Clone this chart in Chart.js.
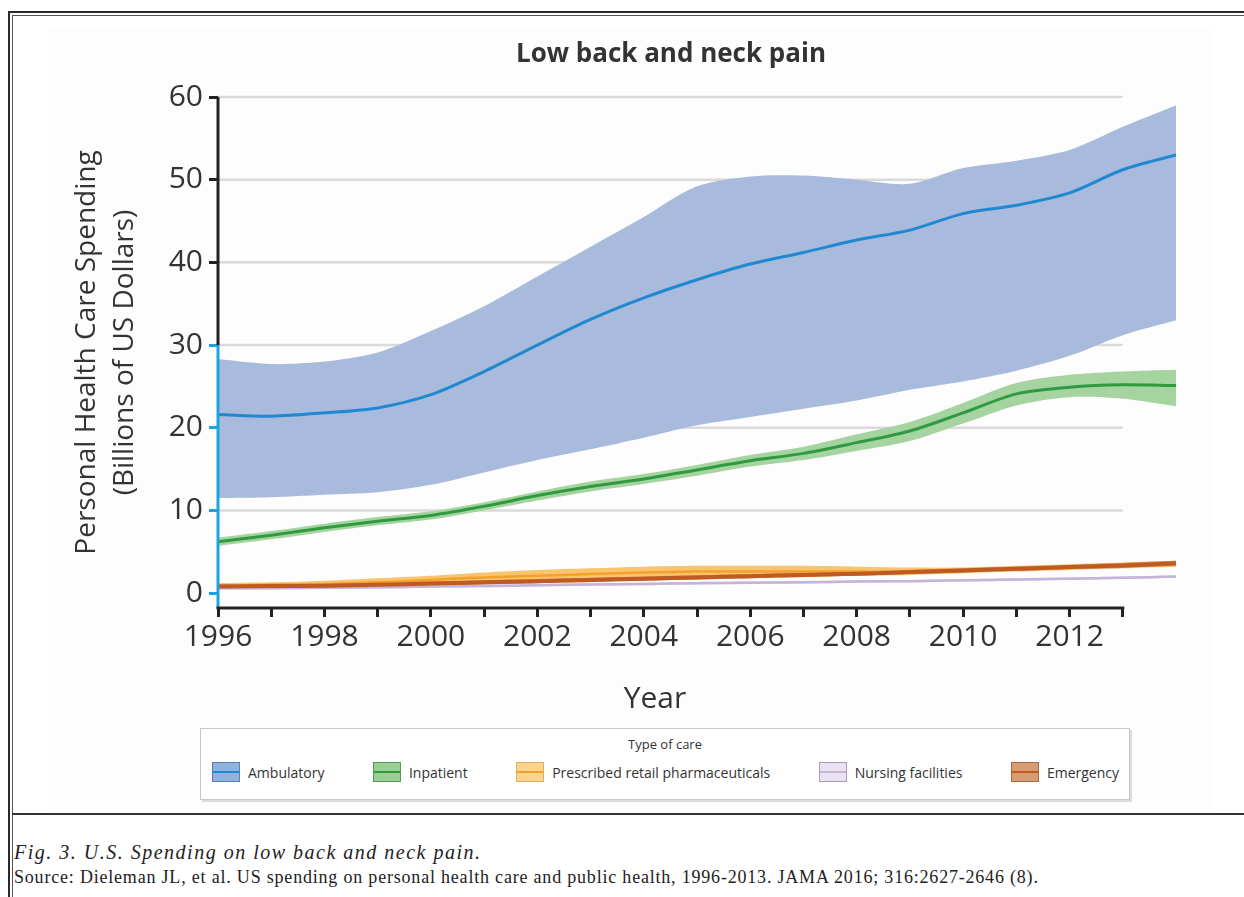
<!DOCTYPE html>
<html>
<head>
<meta charset="utf-8">
<script src="https://cdn.jsdelivr.net/npm/chart.js@4.4.0/dist/chart.umd.min.js"></script>
<style>
body { margin: 0; width: 1244px; height: 897px; background: #fff; position: relative; overflow: hidden; font-family: "Open Sans", sans-serif; color: #333; }
.ln { position: absolute; background: #2a2a2a; }
#fig { position: absolute; left: 48px; top: 28px; width: 1165px; height: 785px; background: #fdfdfd; }
#myChart { position: absolute; left: 0; top: 0; }
#title { position: absolute; left: 0; width: 1342px; top: 34px; text-align: center; font-size: 26px; font-weight: 700; color: #333; }
#xtitle { position: absolute; left: 555px; width: 200px; top: 676px; text-align: center; font-size: 30px; font-weight: 500; color: #333; }
#legend { position: absolute; left: 200px; top: 728px; width: 928px; height: 70px; border: 1px solid #c8c8c8; box-shadow: 2px 2px 0 #dcdcdc; background: #fff; }
#legend .lt { text-align: center; font-size: 13px; margin-top: 6px; color: #333; }
#items { display: flex; justify-content: space-between; padding: 0 10px 0 11px; margin-top: 9px; }
.item { display: flex; align-items: center; font-size: 14px; color: #333; }
.sw { width: 26px; height: 18px; margin-right: 8px; position: relative; border: 1px solid; }
.sw i { position: absolute; left: 0; right: 0; top: 8px; height: 2px; }
#cap1 { position: absolute; left: 14px; top: 841px; font-family: "Liberation Serif", serif; font-style: italic; font-size: 20px; letter-spacing: 1.5px; color: #222; }
#cap2 { position: absolute; left: 14px; top: 867px; font-family: "Liberation Serif", serif; font-size: 18px; letter-spacing: 0.8px; color: #222; }
</style>
</head>
<body>
<div class="ln" style="left:8px;top:11px;width:2px;height:886px;"></div>
<div class="ln" style="left:12px;top:15px;width:1px;height:882px;background:#555;"></div>
<div class="ln" style="left:8px;top:11px;width:1236px;height:2px;"></div>
<div class="ln" style="left:12px;top:15px;width:1232px;height:1px;background:#555;"></div>
<div class="ln" style="left:12px;top:813px;width:1232px;height:2px;background:#333;"></div>
<div id="fig"></div>
<canvas id="myChart" width="1244" height="680"></canvas>
<div id="title">Low back and neck pain</div>
<div id="xtitle">Year</div>
<div id="legend"><div class="lt">Type of care</div><div id="items"></div></div>
<div id="cap1">Fig. 3. U.S. Spending on low back and neck pain.</div>
<div id="cap2">Source: Dieleman JL, et al. US spending on personal health care and public health, 1996-2013. JAMA 2016; 316:2627-2646 (8).</div>
<script>
// years of the estimates (the curves run one step past the last axis tick)
const years = [1996, 1997, 1998, 1999, 2000, 2001, 2002, 2003, 2004, 2005, 2006, 2007, 2008, 2009, 2010, 2011, 2012, 2013, 2014];
const xTickLabels = ['1996', '1998', '2000', '2002', '2004', '2006', '2008', '2010', '2012'];
const yTicks = [0, 10, 20, 30, 40, 50, 60];
const axisYears = [1996, 2013];

const seriesNames = ['Ambulatory', 'Inpatient', 'Prescribed retail pharmaceuticals', 'Nursing facilities', 'Emergency'];

// billions of US dollars
const ambulatory   = [21.6, 21.4, 21.8, 22.4, 24.0, 26.8, 30.0, 33.1, 35.7, 37.9, 39.8, 41.2, 42.7, 43.9, 45.9, 46.9, 48.4, 51.2, 53.0];
const ambulatoryHi = [28.3, 27.7, 28.0, 29.1, 31.7, 34.7, 38.3, 41.9, 45.5, 49.2, 50.4, 50.5, 50.0, 49.5, 51.4, 52.3, 53.6, 56.4, 59.0];
const ambulatoryLo = [11.5, 11.6, 11.9, 12.2, 13.1, 14.6, 16.1, 17.4, 18.8, 20.3, 21.3, 22.3, 23.3, 24.6, 25.6, 26.9, 28.7, 31.2, 33.0];

const inpatient   = [6.2, 7.0, 7.9, 8.7, 9.4, 10.5, 11.8, 12.9, 13.8, 14.9, 16.0, 16.9, 18.2, 19.6, 21.8, 24.1, 24.9, 25.2, 25.1];
const inpatientHi = [6.7, 7.5, 8.4, 9.2, 9.9, 11.0, 12.3, 13.5, 14.4, 15.5, 16.7, 17.7, 19.2, 20.7, 23.0, 25.4, 26.4, 26.8, 27.0];
const inpatientLo = [5.7, 6.5, 7.4, 8.2, 8.9, 10.0, 11.2, 12.3, 13.2, 14.2, 15.3, 16.1, 17.2, 18.4, 20.5, 22.7, 23.7, 23.5, 22.6];

const pharma   = [0.9, 1.0, 1.1, 1.3, 1.6, 1.9, 2.1, 2.3, 2.5, 2.6, 2.6, 2.6, 2.6, 2.6, 2.8, 3.0, 3.2, 3.4, 3.6];
const pharmaHi = [1.2, 1.3, 1.5, 1.8, 2.1, 2.5, 2.8, 3.0, 3.2, 3.3, 3.3, 3.3, 3.2, 3.1, 3.1, 3.3, 3.5, 3.7, 3.9];
const pharmaLo = [0.6, 0.7, 0.8, 0.9, 1.1, 1.3, 1.5, 1.6, 1.8, 1.9, 2.0, 2.0, 2.1, 2.2, 2.4, 2.6, 2.8, 3.0, 3.2];

const nursing   = [0.6, 0.6, 0.65, 0.7, 0.8, 0.85, 0.95, 1.05, 1.1, 1.2, 1.25, 1.3, 1.4, 1.45, 1.55, 1.65, 1.75, 1.85, 2.0];
const nursingHi = [0.75, 0.75, 0.8, 0.85, 0.95, 1.0, 1.1, 1.2, 1.25, 1.35, 1.4, 1.45, 1.55, 1.6, 1.7, 1.8, 1.9, 2.0, 2.15];
const nursingLo = [0.45, 0.45, 0.5, 0.55, 0.65, 0.7, 0.8, 0.9, 0.95, 1.05, 1.1, 1.15, 1.25, 1.3, 1.4, 1.5, 1.6, 1.7, 1.85];

const emergency   = [0.8, 0.85, 0.9, 1.0, 1.15, 1.3, 1.45, 1.6, 1.75, 1.9, 2.05, 2.2, 2.35, 2.55, 2.75, 2.95, 3.15, 3.35, 3.6];
const emergencyHi = [1.05, 1.1, 1.15, 1.25, 1.4, 1.55, 1.7, 1.85, 2.0, 2.15, 2.3, 2.45, 2.6, 2.8, 3.0, 3.2, 3.4, 3.65, 3.9];
const emergencyLo = [0.55, 0.6, 0.65, 0.75, 0.9, 1.05, 1.2, 1.35, 1.5, 1.65, 1.8, 1.95, 2.1, 2.3, 2.5, 2.7, 2.9, 3.05, 3.3];

const lineColors = ['#1f88d0', '#2f9a40', '#f3a02c', '#c5b3d8', '#bf5a22'];
const bandColors = ['#a9bbdc', '#a6d4a0', '#f8c46c', '#ddd2ea', '#d98c58'];
const swatchFill = ['#8fb2de', '#97cf95', '#fcd48c', '#e9e2f1', '#d89c74'];
const swatchEdge = ['#5b80b2', '#5a9a5a', '#dcb064', '#a999ba', '#a66a42'];
const axisBlue = '#1ea3e0';

const pts = arr => arr.map((v, i) => ({x: years[i], y: v}));

let datasets = [];
function addBand(hi, lo, color, order) {
    datasets.push({data: pts(hi), fill: '+1', backgroundColor: color, borderColor: 'transparent', borderWidth: 0, pointRadius: 0, tension: 0.3, order: order});
    datasets.push({data: pts(lo), fill: false, borderColor: 'transparent', borderWidth: 0, pointRadius: 0, tension: 0.3, order: order});
}
function addLine(arr, color, width, order) {
    datasets.push({data: pts(arr), fill: false, borderColor: color, borderWidth: width, pointRadius: 0, tension: 0.3, order: order});
}

addBand(ambulatoryHi, ambulatoryLo, bandColors[0], 20);
addBand(inpatientHi, inpatientLo, bandColors[1], 19);
addBand(nursingHi, nursingLo, bandColors[3], 18);
addBand(pharmaHi, pharmaLo, bandColors[2], 17);
addBand(emergencyHi, emergencyLo, bandColors[4], 16);
addLine(nursing, lineColors[3], 2.5, 5);
addLine(pharma, lineColors[2], 2.5, 4);
addLine(ambulatory, lineColors[0], 3, 3);
addLine(inpatient, lineColors[1], 3, 2);
addLine(emergency, lineColors[4], 4, 1);

// grid lines and axis lines stop at the last tick, the curves go further
const axisPlugin = {
    id: 'axisPlugin',
    beforeDatasetsDraw(chart) {
        const {ctx, scales: {x, y}} = chart;
        ctx.save();
        ctx.strokeStyle = '#dadada';
        ctx.lineWidth = 2.5;
        yTicks.forEach(v => {
            if (v === 0) return;
            const py = y.getPixelForValue(v);
            ctx.beginPath();
            ctx.moveTo(x.getPixelForValue(axisYears[0]), py);
            ctx.lineTo(x.getPixelForValue(axisYears[1]), py);
            ctx.stroke();
        });
        ctx.restore();
    },
    afterDatasetsDraw(chart) {
        const {ctx, chartArea, scales: {x, y}} = chart;
        const x0 = x.getPixelForValue(axisYears[0]);
        ctx.save();
        ctx.lineWidth = 3;
        ctx.strokeStyle = '#222';
        ctx.beginPath();
        ctx.moveTo(x0, y.getPixelForValue(60));
        ctx.lineTo(x0, y.getPixelForValue(30));
        ctx.stroke();
        ctx.strokeStyle = axisBlue;
        ctx.beginPath();
        ctx.moveTo(x0, y.getPixelForValue(30));
        ctx.lineTo(x0, chartArea.bottom);
        ctx.stroke();
        ctx.strokeStyle = '#222';
        ctx.beginPath();
        ctx.moveTo(x0 - 1.5, chartArea.bottom);
        ctx.lineTo(x.getPixelForValue(axisYears[1]) + 1.5, chartArea.bottom);
        ctx.stroke();
        ctx.restore();
    }
};

const font = "'Open Sans', sans-serif";
const ctx = document.getElementById('myChart').getContext('2d');
const chart = new Chart(ctx, {
    type: 'line',
    data: {datasets: datasets},
    options: {
        responsive: false,
        animation: false,
        events: [],
        layout: {padding: {left: 60, right: 68, top: 97, bottom: 0}},
        plugins: {legend: {display: false}, tooltip: {enabled: false}},
        scales: {
            x: {
                type: 'linear',
                min: years[0],
                max: years[years.length - 1],
                border: {display: false},
                grid: {
                    drawOnChartArea: false,
                    tickLength: 9,
                    lineWidth: 3,
                    tickColor: c => c.tick && c.tick.value > axisYears[1] ? 'transparent' : '#222'
                },
                ticks: {
                    stepSize: 1,
                    autoSkip: false,
                    maxRotation: 0,
                    padding: 2,
                    color: '#333',
                    font: {family: font, size: 30, weight: 500},
                    callback: v => xTickLabels.includes(String(v)) ? String(v) : ''
                },
                afterFit: s => { s.height = 72; }
            },
            y: {
                min: -1.8,
                max: 60,
                border: {display: false},
                afterBuildTicks: s => { s.ticks = yTicks.map(v => ({value: v})); },
                grid: {
                    drawOnChartArea: false,
                    tickLength: 9,
                    lineWidth: 3,
                    tickColor: c => c.tick && c.tick.value <= 30 ? axisBlue : '#222'
                },
                ticks: {
                    padding: 6,
                    color: '#333',
                    font: {family: font, size: 30, weight: 500}
                },
                title: {
                    display: true,
                    text: ['Personal Health Care Spending', '(Billions of US Dollars)'],
                    color: '#333',
                    font: {family: font, size: 28, lineHeight: 1.36},
                    padding: {top: 8, bottom: 0}
                },
                afterFit: s => { s.width = 158; }
            }
        }
    },
    plugins: [axisPlugin]
});

// html legend
const items = document.getElementById('items');
seriesNames.forEach((name, i) => {
    const d = document.createElement('div');
    d.className = 'item';
    d.innerHTML = '<span class="sw" style="background:' + swatchFill[i] + ';border-color:' + swatchEdge[i] + '"><i style="background:' + lineColors[i] + '"></i></span>' + name;
    items.appendChild(d);
});
</script>
</body>
</html>
